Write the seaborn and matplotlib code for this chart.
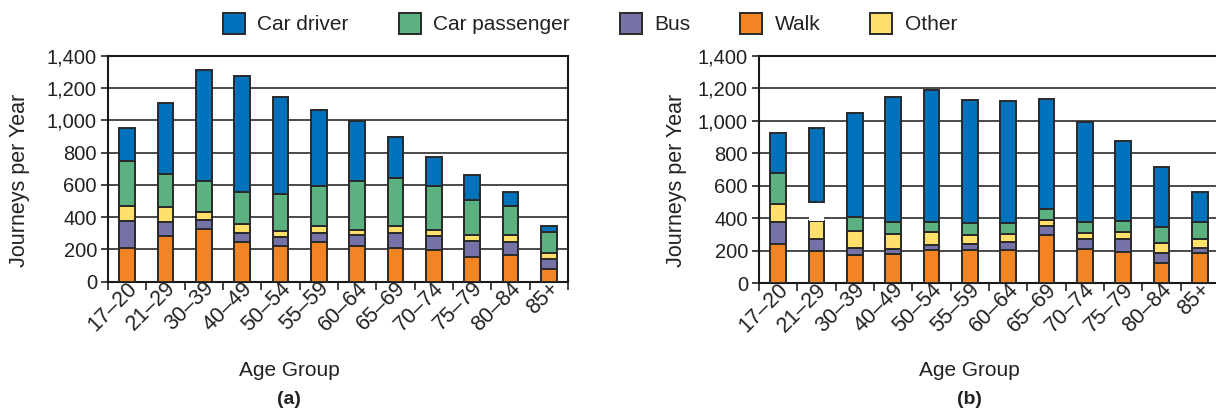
import numpy as np
import pandas as pd
import matplotlib
matplotlib.use("Agg")
import matplotlib.pyplot as plt
import matplotlib.transforms as mtransforms
import seaborn as sns
from matplotlib.patches import Patch
from matplotlib.ticker import FuncFormatter, FixedLocator, MultipleLocator

# ---------------- data ----------------
ages = ["17–20", "21–29", "30–39", "40–49", "50–54", "55–59",
        "60–64", "65–69", "70–74", "75–79", "80–84", "85+"]
modes = ["Car driver", "Car passenger", "Bus", "Walk", "Other"]

# panel (a) segment heights (journeys per year)
walk_a = [206, 285, 326, 243, 219, 243, 219, 210, 198, 155, 163, 76]
bus_a = [173, 84, 55, 56, 55, 60, 68, 93, 87, 99, 82, 64]
other_a = [91, 93, 50, 56, 37, 39, 35, 43, 37, 37, 46, 39]
passenger_a = [278, 206, 190, 198, 235, 250, 299, 299, 270, 218, 177, 130]
driver_a = [207, 441, 690, 723, 598, 470, 377, 254, 181, 153, 87, 37]

# panel (b) segment heights (journeys per year)
walk_b = [244, 199, 174, 178, 205, 205, 205, 297, 209, 194, 125, 186]
bus_b = [131, 73, 43, 33, 28, 37, 49, 53, 63, 78, 61, 31]
other_b = [110, 111, 102, 90, 80, 53, 47, 37, 37, 43, 60, 55]
passenger_b = [191, 117, 90, 74, 62, 73, 67, 69, 68, 70, 98, 103]
driver_b = [247, 456, 639, 769, 812, 758, 752, 680, 616, 493, 370, 188]
# in panel (b) the 21–29 car-passenger segment is left blank in the original
blank_b = [(1, "Car passenger")]

colors = {"Car driver": "#0072BB", "Car passenger": "#5BB17F", "Bus": "#7572A8",
          "Walk": "#F38423", "Other": "#FFE06A"}
edge = "#2a2a2a"
txt = "#222222"

# ---------------- styling ----------------
sns.set_theme(style="white")
plt.rcParams['font.family'] = ['Liberation Sans', 'DejaVu Sans']
plt.rcParams['text.color'] = txt

W, H = 1216, 412
fig = plt.figure(figsize=(W / 100, H / 100), dpi=100)
ax_a = fig.add_axes([108 / W, 1 - 281.7 / H, 460 / W, 226 / H])
ax_b = fig.add_axes([759 / W, 1 - 283.3 / H, 460 / W, 227.6 / H])

label_shift = mtransforms.ScaledTranslation(7 / 100, 2 / 100, fig.dpi_scale_trans)


def draw(ax, walk, bus, other, passenger, driver, blank=()):
    stack = [("Walk", walk), ("Bus", bus), ("Other", other),
             ("Car passenger", passenger), ("Car driver", driver)]
    bottom = np.zeros(len(ages))
    for name, vals in stack:
        vals = np.asarray(vals, dtype=float)
        sns.barplot(x=ages, y=vals, bottom=bottom, color=colors[name],
                    saturation=1, width=0.41, errorbar=None,
                    edgecolor=edge, linewidth=1.4, ax=ax, zorder=3)
        cont = ax.containers[-1]
        for idx, bname in blank:
            if bname == name:
                cont[idx].set_facecolor("white")
                cont[idx].set_edgecolor("none")
        bottom = bottom + vals

    ax.set_ylim(0, 1400)
    ax.set_xlim(-0.5, len(ages) - 0.5)
    ax.yaxis.set_major_locator(MultipleLocator(200))
    ax.yaxis.set_major_formatter(FuncFormatter(lambda v, p: f"{int(v):,}"))
    ax.yaxis.grid(True, color="#3c3c3c", linewidth=1.3, zorder=0)
    ax.xaxis.grid(False)
    ax.set_axisbelow(True)

    ax.tick_params(axis="y", which="major", left=True, length=5, width=1.2,
                   color=txt, labelsize=14.5, pad=3, labelcolor=txt)
    ax.tick_params(axis="x", which="major", length=0, labelsize=15.5, pad=4,
                   labelcolor=txt)
    ax.xaxis.set_minor_locator(FixedLocator(np.arange(-0.5, len(ages), 1.0)))
    ax.tick_params(axis="x", which="minor", bottom=True, length=6, width=1.2,
                   color=txt)
    for lab in ax.get_xticklabels():
        lab.set_rotation(45)
        lab.set_ha("right")
        lab.set_va("center")
        lab.set_rotation_mode("anchor")
        lab.set_transform(lab.get_transform() + label_shift)

    for sp in ax.spines.values():
        sp.set_visible(True)
        sp.set_color("#1a1a1a")
        sp.set_linewidth(1.5)

    ax.set_xlabel("")
    ax.set_ylabel("")


draw(ax_a, walk_a, bus_a, other_a, passenger_a, driver_a)
draw(ax_b, walk_b, bus_b, other_b, passenger_b, driver_b, blank_b)

for xc in (19.5, 677):
    fig.text(xc / W, 1 - 180 / H, "Journeys per Year", fontsize=15.5, rotation=90,
             ha="center", va="center", color=txt)

fig.text(289 / W, 1 - 371 / H, "Age Group", fontsize=15, ha="center", va="center",
         color=txt)
fig.text(289 / W, 1 - 399 / H, "(a)", fontsize=14, fontweight="bold", ha="center",
         va="center", color=txt)
fig.text(969 / W, 1 - 371 / H, "Age Group", fontsize=15, ha="center", va="center",
         color=txt)
fig.text(969 / W, 1 - 399 / H, "(b)", fontsize=14, fontweight="bold", ha="center",
         va="center", color=txt)

handles = [Patch(facecolor=colors[m], edgecolor=edge, linewidth=1.4, label=m) for m in modes]
fig.legend(handles=handles, loc="upper center", bbox_to_anchor=(590 / W, 1.0),
           ncol=5, frameon=False, fontsize=15, handlelength=1.05, handleheight=1.2,
           handletextpad=0.6, columnspacing=2.4, borderaxespad=0.2)

fig.savefig("out.png", dpi=100)
